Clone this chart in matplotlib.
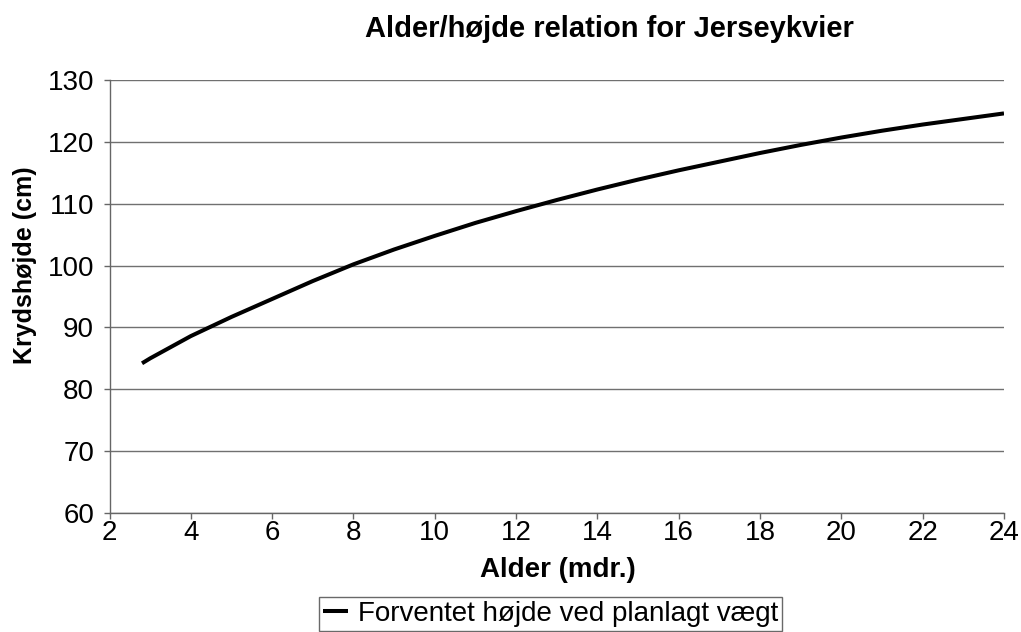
import matplotlib.pyplot as plt

# Alder (måneder) og forventet krydshøjde (cm)
alder = [2.8, 3, 4, 5, 6, 7, 8, 9, 10, 11, 12, 13, 14, 15, 16, 17, 18, 19, 20, 21, 22, 23, 24]
hoejde = [84.2, 85.0, 88.6, 91.7, 94.6, 97.5, 100.2, 102.6, 104.8, 106.9, 108.8, 110.6,
          112.3, 113.9, 115.4, 116.8, 118.2, 119.5, 120.7, 121.8, 122.8, 123.7, 124.6]

x_ticks = list(range(2, 25, 2))
y_ticks = list(range(60, 131, 10))

plt.rcParams["font.family"] = ["Liberation Sans", "DejaVu Sans"]

W, H = 1021, 632
fig = plt.figure(figsize=(W / 100, H / 100), dpi=100)
ax = fig.add_axes([109.5 / W, 1 - 513 / H, 894.5 / W, 433 / H])

line, = ax.plot(alder, hoejde, color="black", linewidth=2.9,
                solid_capstyle="butt", label="Forventet højde ved planlagt vægt")

ax.set_xlim(2, 24)
ax.set_ylim(60, 130)
ax.set_xticks(x_ticks)
ax.set_yticks(y_ticks)
ax.yaxis.grid(True, color="#707070", linewidth=1)
ax.set_axisbelow(True)

for side in ["top", "right"]:
    ax.spines[side].set_visible(False)
for side in ["left", "bottom"]:
    ax.spines[side].set_color("#666666")
    ax.spines[side].set_linewidth(1)

ax.tick_params(axis="both", labelsize=20, color="#666666", length=4, width=1)
ax.tick_params(axis="y", pad=7)
ax.tick_params(axis="x", pad=1)

ax.set_xlabel("Alder (mdr.)", fontsize=20, fontweight="bold", va="baseline")
ax.xaxis.set_label_coords((557.5 - 109.5) / 894.5, (513 - 577) / 433)
ax.set_ylabel("Krydshøjde (cm)", fontsize=18, fontweight="bold", va="center")
ax.yaxis.set_label_coords((24.7 - 109.5) / 894.5, (513 - 265) / 433)

fig.text(609.5 / W, 1 - 36.7 / H, "Alder/højde relation for Jerseykvier",
         ha="center", va="baseline", fontsize=21, fontweight="bold")

leg = fig.legend(handles=[line], loc="upper center",
                 bbox_to_anchor=(550.5 / W, 1 - 597 / H), borderaxespad=0,
                 fontsize=20, frameon=True, fancybox=False,
                 handlelength=0.9, handletextpad=0.36, borderpad=0.15)
leg.get_frame().set_edgecolor("#444444")
leg.get_frame().set_linewidth(1)

fig.savefig("out.png", dpi=100)
